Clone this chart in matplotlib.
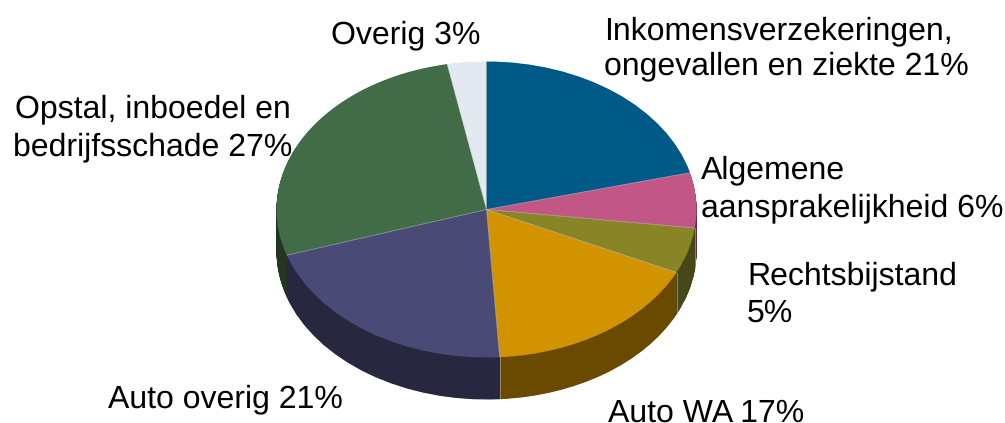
import numpy as np
import matplotlib
matplotlib.use("Agg")
import matplotlib.pyplot as plt

categories = ["Inkomensverzekeringen,\nongevallen en ziekte 21%",
              "Algemene\naansprakelijkheid 6%",
              "Rechtsbijstand\n5%",
              "Auto WA 17%",
              "Auto overig 21%",
              "Opstal, inboedel en\nbedrijfsschade 27%",
              "Overig 3%"]
values = [21, 6, 5, 17, 21, 27, 3]
top_colors = ["#005a87", "#c25787", "#888527", "#d29300", "#494a75", "#426b47", "#e2e9f1"]
wall_colors = ["#002c43", "#612b43", "#47481a", "#694a00", "#27273f", "#233720", "#717478"]

W, H = 1005, 423
CX, CY, RX, RY, DEPTH = 486.5, 209.5, 210.0, 148.0, 42.0

plt.rcParams['font.family'] = ['Liberation Sans', 'DejaVu Sans']
plt.rcParams['text.hinting'] = 'no_hinting'
plt.rcParams['text.hinting_factor'] = 1
fig = plt.figure(figsize=(W / 100, H / 100), dpi=100)
ax = fig.add_axes([0, 0, 1, 1])

pie_kw = dict(startangle=90, counterclock=False, radius=1.0)
for off in np.arange(DEPTH, 0, -0.5):
    ax.pie(values, colors=wall_colors, center=(0, -off / RY), **pie_kw)
ax.pie(values, colors=top_colors, center=(0, 0), **pie_kw)

# thin light seams along slice boundaries (none at twelve o'clock)
bounds = np.cumsum(values[:-1]) / sum(values) * 2 * np.pi
for b in bounds:
    ux, uy = np.sin(b), np.cos(b)
    ax.plot([0, ux], [0, uy], color="#d8d8d8", lw=0.5, alpha=0.6, solid_capstyle='butt', zorder=5)
    if uy < 0 and (ux > 0 or b < 1.05 * np.pi):
        ax.plot([ux, ux], [uy, uy - DEPTH / RY], color="#c8c8c8", lw=0.5, alpha=0.7, zorder=5)

ax.set_aspect('auto')
ax.set_xlim(-CX / RX, (W - CX) / RX)
ax.set_ylim((CY - H) / RY, CY / RY)
ax.axis('off')

fs = 22.9
label_pos = [(604, 74, 'left', 1.22), (701, 216, 'left', 1.34), (747, 322, 'left', 1.34),
             (608, 422, 'left', 1.2), (108, 407, 'left', 1.2), (153, 155, 'center', 1.32),
             (331, 43, 'left', 1.2)]
for text, (x, y, ha, ls) in zip(categories, label_pos):
    fig.text(x / W, 1 - y / H, text, fontsize=fs, ha=ha, va='baseline', color='black',
             linespacing=ls, multialignment=ha)

fig.savefig("out.png", dpi=100)
